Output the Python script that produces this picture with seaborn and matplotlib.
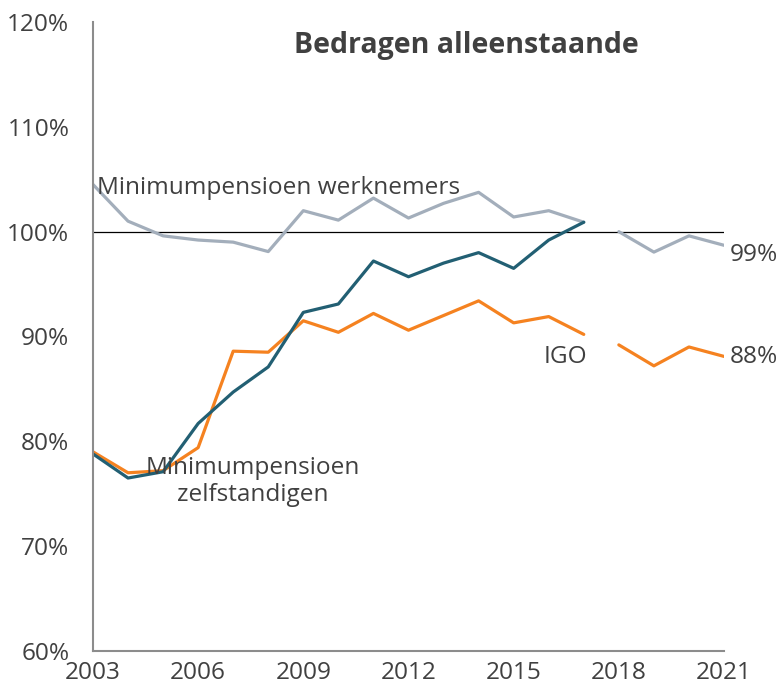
import matplotlib
matplotlib.use("Agg")
import matplotlib.pyplot as plt
import seaborn as sns
import pandas as pd
import numpy as np

years = list(range(2003, 2022))
werknemers = [104.5, 101.0, 99.6, 99.2, 99.0, 98.1, 102.0, 101.1, 103.2, 101.3, 102.7, 103.75, 101.4, 102.0, 100.9,
              100.0, 98.05, 99.6, 98.7]
zelfstandigen = [78.8, 76.5, 77.1, 81.7, 84.7, 87.1, 92.3, 93.1, 97.2, 95.7, 97.0, 98.0, 96.5, 99.2, 100.9]
igo = [79.0, 77.0, 77.2, 79.4, 88.6, 88.5, 91.5, 90.4, 92.2, 90.6, 92.0, 93.4, 91.3, 91.9, 90.2,
       89.2, 87.2, 89.0, 88.1]
series_names = ["Minimumpensioen werknemers", "IGO", "Minimumpensioen zelfstandigen"]
colors = ["#A3AEBB", "#F58220", "#225F73"]
y_ticks = [60, 70, 80, 90, 100, 110, 120]
x_ticks = [2003, 2006, 2009, 2012, 2015, 2018, 2021]
break_year = 2018

rows = []
for name, vals in zip(series_names, [werknemers, igo, zelfstandigen]):
    for yr, v in zip(years, vals):
        rows.append({"year": yr, "value": v, "series": name,
                     "segment": 0 if yr < break_year else 1})
df = pd.DataFrame(rows)

sns.set_theme(style="white")
plt.rcParams['font.family'] = ['Open Sans', 'DejaVu Sans']
text_color = "#404040"
fs = 17.6

fig = plt.figure(figsize=(7.78, 6.87), dpi=100)
ax = fig.add_axes([0.1195, 0.0524, 0.8111, 0.9156])

ax.axhline(100, color="black", lw=0.9, zorder=1)
sns.lineplot(data=df, x="year", y="value", hue="series", units="segment", estimator=None,
             hue_order=series_names, palette=colors, linewidth=2.3, legend=False, ax=ax, zorder=2)

ax.set_xlim(2003, 2021)
ax.set_ylim(60, 120)
ax.set_xticks(x_ticks)
ax.set_yticks(y_ticks)
ax.set_yticklabels([f"{t}%" for t in y_ticks])
ax.set_xlabel("")
ax.set_ylabel("")
for s in ["top", "right"]:
    ax.spines[s].set_visible(False)
for s in ["left", "bottom"]:
    ax.spines[s].set_color("#8C8C8C")
    ax.spines[s].set_linewidth(1.5)
ax.tick_params(axis="both", colors="#8C8C8C", length=6, width=1.5, direction="out",
               labelsize=fs, labelcolor=text_color)
ax.tick_params(axis="x", pad=1)
ax.tick_params(axis="y", pad=11)

ax.text(0.591, 117.8, "Bedragen alleenstaande", transform=ax.get_yaxis_transform(), ha="center", va="center",
        fontsize=20.5, fontweight="bold", color=text_color)
ax.text(2003.11, 104.2, "Minimumpensioen werknemers", ha="left", va="center", fontsize=fs, color=text_color)
ax.text(2007.56, 76.2, "Minimumpensioen\nzelfstandigen", ha="center", va="center", fontsize=fs,
        color=text_color, linespacing=1.15)
ax.text(2017.1, 88.0, "IGO", ha="right", va="center", fontsize=fs, color=text_color)
ax.text(2021.15, 97.8, "99%", ha="left", va="center", fontsize=fs, color=text_color, clip_on=False)
ax.text(2021.15, 88.0, "88%", ha="left", va="center", fontsize=fs, color=text_color, clip_on=False)

fig.savefig("out.png", dpi=100)
